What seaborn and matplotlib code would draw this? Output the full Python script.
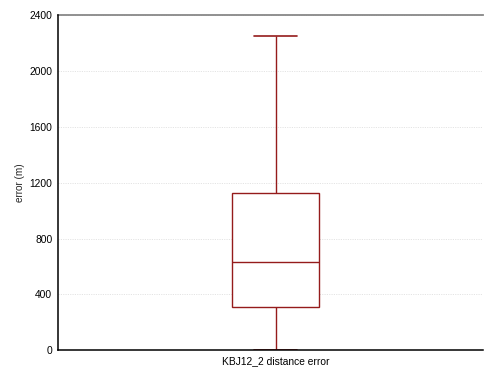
import matplotlib
matplotlib.use("Agg")
import matplotlib.pyplot as plt
import seaborn as sns
import pandas as pd

# Summary points of the distance error distribution (m): min, Q1, median, Q3, max
category = ["KBJ12_2 distance error"]
error_values = [0, 312, 634, 1125, 2250]
y_ticks = [0, 400, 800, 1200, 1600, 2000, 2400]

df = pd.DataFrame({"series": category * len(error_values), "error": error_values})

sns.set_theme(style="white")
plt.rcParams["font.family"] = ["Liberation Sans", "DejaVu Sans"]

fig = plt.figure(figsize=(4.84, 3.69), dpi=100)
ax = fig.add_axes([0.1195, 0.0507, 0.8785, 0.9086])

edge = "#951b1b"
sns.boxplot(
    data=df, x="series", y="error", ax=ax,
    whis=1.5, width=0.205, showfliers=False,
    boxprops=dict(facecolor="white", edgecolor=edge, linewidth=1.0),
    whiskerprops=dict(color=edge, linewidth=1.0),
    capprops=dict(color=edge, linewidth=1.2),
    medianprops=dict(color=edge, linewidth=1.0),
    capwidths=0.1,
)

ax.set_xlim(-0.512, 0.488)
ax.set_ylim(0, 2400)
ax.set_yticks(y_ticks)
ax.set_yticklabels([str(t) for t in y_ticks])
ax.yaxis.grid(True, color="#e4e4e4", linestyle=(0, (1.2, 1.2)), linewidth=0.7)
ax.set_axisbelow(True)

ax.tick_params(axis="both", length=0, labelsize=7.4, colors="black", pad=4)
ax.set_xlabel("")
ax.set_ylabel("error (m)", fontsize=7.2, labelpad=3)

for side in ["left", "bottom"]:
    ax.spines[side].set_color("black")
    ax.spines[side].set_linewidth(1.1)
    ax.spines[side].set_zorder(10)
ax.spines["top"].set_color("#888888")
ax.spines["top"].set_linewidth(1.3)
ax.spines["right"].set_visible(False)

fig.savefig("out.png", dpi=100)
